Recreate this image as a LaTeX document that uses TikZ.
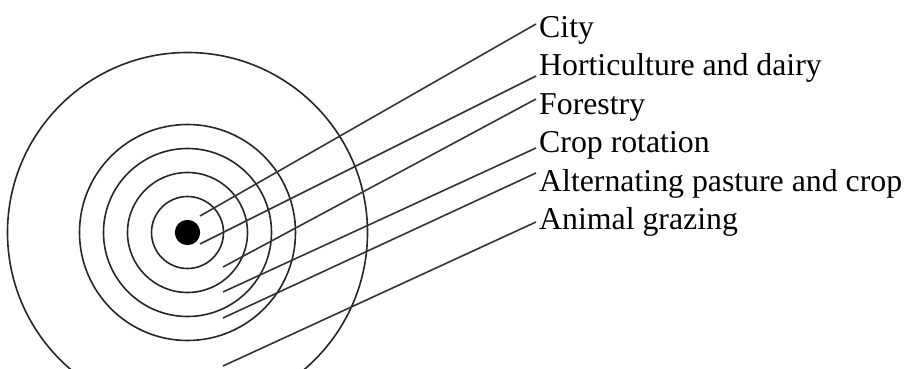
\documentclass[tikz,border=0pt]{standalone}
\usepackage{fontspec}
\setmainfont{Liberation Serif}
\usepackage{tikz}

\tikzset{
  ring/.style={line width=1.6pt, draw=black!85},
  leader/.style={line width=1.6pt, draw=black!80},
  zonelabel/.style={anchor=base west, inner sep=0pt, font=\fontsize{31.8}{31.8}\selectfont}
}

\begin{document}
\begin{tikzpicture}[x=1pt, y=-1pt]
				\useasboundingbox (0,0) rectangle (908,369);
				\clip (0,0) rectangle (908,369);
				\coordinate (O) at (187.5,232.5);
				% rings
				\foreach \r in {36,60,84,108,180}
					\draw[ring] (O) circle (\r pt);
				\fill (O) circle (12.7pt);
				% leader starts
				\coordinate (s1) at (200,216);
				\coordinate (s2) at (200,244);
				\coordinate (s3) at (223,267);
				\coordinate (s4) at (223,292);
				\coordinate (s5) at (223,318);
				\coordinate (s6) at (223,366);
				% leader ends
				\coordinate (e1) at (536,24);
				\coordinate (e2) at (536,76);
				\coordinate (e3) at (536,99);
				\coordinate (e4) at (536,148);
				\coordinate (e5) at (536,173);
				\coordinate (e6) at (536,222);
				\draw[leader] (s1)--(e1);
				\draw[leader] (s2)--(e2);
				\draw[leader] (s3)--(e3);
				\draw[leader] (s4)--(e4);
				\draw[leader] (s5)--(e5);
				\draw[leader] (s6)--(e6);
				% labels
				\node[zonelabel] (city) at (539,37.3) {City};
				\node[zonelabel] (hort) at (539,75.7) {Horticulture and dairy};
				\node[zonelabel] (forest) at (539,114) {Forestry};
				\node[zonelabel] (crop) at (539,152.5) {Crop rotation};
				\node[zonelabel] (alt) at (539,191) {Alternating pasture and crop};
				\node[zonelabel] (graze) at (539,229) {Animal grazing};
			\end{tikzpicture}
\end{document}
